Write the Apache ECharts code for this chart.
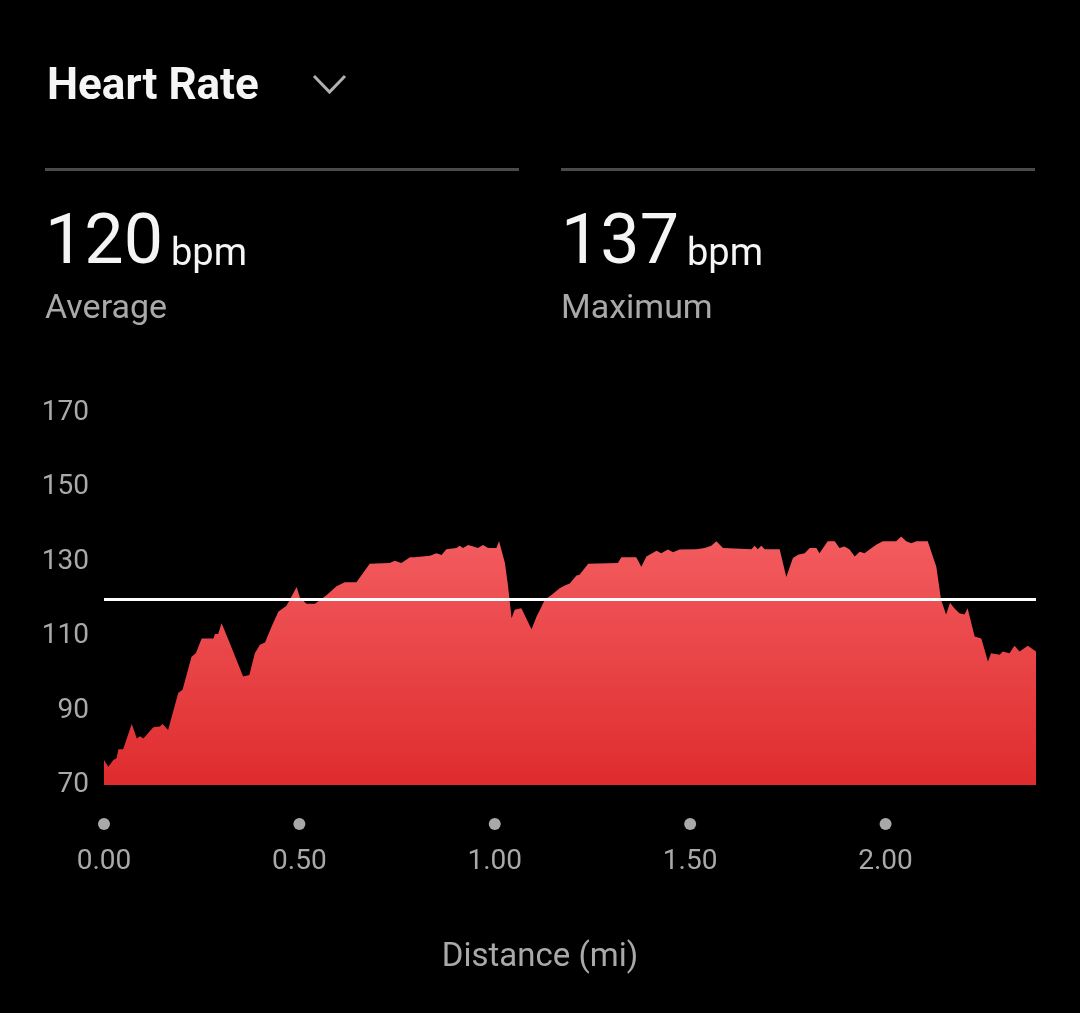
<!DOCTYPE html>
<html>
<head>
<meta charset="utf-8">
<style>
html,body{margin:0;padding:0;background:#000;}
#chart{width:1080px;height:1013px;}
</style>
<script src="https://cdn.jsdelivr.net/npm/echarts@6/dist/echarts.min.js"></script>
</head>
<body>
<div id="chart"></div>
<script>
// Distance (mi) and heart rate (bpm)
const distance = [0.000,0.011,0.024,0.032,0.037,0.049,0.071,0.084,0.092,0.101,0.126,0.143,0.150,0.164,0.190,0.201,0.224,0.235,0.250,0.280,0.284,0.292,0.301,0.322,0.356,0.372,0.386,0.399,0.412,0.429,0.446,0.467,0.493,0.501,0.518,0.540,0.570,0.595,0.616,0.646,0.680,0.731,0.744,0.761,0.783,0.795,0.834,0.851,0.864,0.876,0.902,0.910,0.919,0.932,0.945,0.957,0.970,0.983,1.004,1.011,1.026,1.034,1.043,1.051,1.068,1.094,1.107,1.115,1.128,1.145,1.166,1.179,1.192,1.209,1.217,1.239,1.315,1.324,1.362,1.375,1.388,1.414,1.426,1.443,1.456,1.473,1.516,1.537,1.554,1.567,1.584,1.657,1.665,1.673,1.682,1.691,1.729,1.746,1.763,1.776,1.793,1.806,1.823,1.831,1.852,1.870,1.882,1.895,1.908,1.921,1.934,1.946,1.959,1.976,1.993,2.027,2.040,2.053,2.066,2.079,2.108,2.121,2.130,2.142,2.155,2.165,2.176,2.189,2.202,2.210,2.228,2.245,2.262,2.270,2.292,2.300,2.317,2.330,2.343,2.364,2.385];
const heartRate = [76.7,74.9,76.7,77.2,79.6,79.6,86.4,82.5,83.1,82.5,85.5,85.7,86.4,84.8,94.7,95.6,104.5,105.4,109.4,109.4,110.6,110.6,113.5,108.1,99.2,99.6,105.4,107.7,108.3,112.6,116.6,118.2,123.2,120.5,118.7,118.7,121.1,123.4,124.5,124.5,129.5,129.7,130.3,129.7,131.2,131.2,131.6,132.3,131.8,133.4,133.7,134.3,133.7,134.5,134.1,133.7,134.5,133.7,133.7,135.5,129.7,123.4,114.8,117.1,117.5,111.9,115.3,117.0,119.8,121.1,122.9,123.6,124.2,126.3,126.5,129.5,129.7,131.2,131.2,128.7,131.4,133.0,132.3,133.3,132.6,133.3,133.4,133.7,134.3,135.5,133.7,133.4,134.3,133.4,134.3,133.4,133.4,125.9,131.0,131.9,132.3,133.7,133.7,132.3,135.5,135.5,133.7,134.1,133.3,131.4,132.7,132.3,133.3,134.6,135.5,135.5,136.8,135.5,135.0,135.5,135.5,131.4,128.7,119.8,115.8,119.0,117.5,116.2,115.8,117.5,109.9,109.4,103.2,105.4,105.0,105.9,105.4,107.4,105.9,107.4,105.9];
const averageHR = 120;
const maximumHR = 137;
const yTicks = [70, 90, 110, 130, 150, 170];
const xTicks = [0, 0.5, 1.0, 1.5, 2.0];
const titleText = 'Heart Rate';
const xAxisTitle = 'Distance (mi)';

const chart = echarts.init(document.getElementById('chart'), null, {renderer:'canvas'});
const FONT = 'Roboto, "Noto Sans", sans-serif';
const seriesData = distance.map((d, i) => [d, heartRate[i]]);

const option = {
  backgroundColor: '#000',
  animation: false,
  textStyle: {fontFamily: FONT},
  grid: {left: 104, right: 44, top: 413, bottom: 228, containLabel: false},
  xAxis: {
    type: 'value',
    min: 0,
    max: distance[distance.length - 1],
    interval: 0.5,
    axisLine: {show: false},
    axisTick: {show: false},
    splitLine: {show: false},
    axisLabel: {
      showMaxLabel: false,
      margin: 33,
      formatter: function (v) {
        if (!xTicks.some(t => Math.abs(t - v) < 1e-6)) return '';
        return '{dot|}\n{t|' + v.toFixed(2) + '}';
      },
      rich: {
        dot: {width: 12, height: 12, borderRadius: 6, backgroundColor: '#a9a9a9', lineHeight: 12},
        t: {fontSize: 28, color: '#a9a9a9', fontFamily: FONT, lineHeight: 64}
      }
    },
    name: xAxisTitle,
    nameLocation: 'middle',
    nameGap: 156,
    nameTextStyle: {fontSize: 33, color: '#a9a9a9', fontFamily: FONT, padding: [0, 60, 0, 0]}
  },
  yAxis: {
    type: 'value',
    min: yTicks[0],
    max: yTicks[yTicks.length - 1],
    interval: 20,
    axisLine: {show: false},
    axisTick: {show: false},
    splitLine: {show: false},
    axisLabel: {margin: 15, fontSize: 28, color: '#a9a9a9', fontFamily: FONT, padding: [5, 0, 0, 0]}
  },
  series: [{
    type: 'line',
    data: seriesData,
    showSymbol: false,
    symbol: 'none',
    lineStyle: {width: 0, opacity: 0},
    areaStyle: {
      opacity: 1,
      color: new echarts.graphic.LinearGradient(0, 0, 0, 1, [
        {offset: 0, color: '#f35c5f'},
        {offset: 1, color: '#df2c2e'}
      ])
    },
    markLine: {
      silent: true,
      symbol: 'none',
      label: {show: false},
      lineStyle: {color: '#ffffff', width: 3, type: 'solid'},
      data: [{yAxis: averageHR}]
    },
    z: 2
  }],
  graphic: [
    {type: 'text', left: 47, top: 66, style: {text: titleText, fill: '#f5f5f5', font: 'bold 44px ' + FONT}},
    {type: 'polyline', shape: {points: [[314, 76], [329.5, 92], [345, 76]]}, style: {stroke: '#b0b0b0', lineWidth: 3, fill: null}},
    {type: 'rect', shape: {x: 45, y: 168, width: 474, height: 3}, style: {fill: '#4b4b4b'}},
    {type: 'rect', shape: {x: 561, y: 168, width: 474, height: 3}, style: {fill: '#4b4b4b'}},
    {type: 'text', x: 45, y: 245, style: {text: String(averageHR), fill: '#f5f5f5', font: '70px ' + FONT, verticalAlign: 'middle'}},
    {type: 'text', x: 171, y: 255, style: {text: 'bpm', fill: '#f5f5f5', font: '38px ' + FONT, verticalAlign: 'middle'}},
    {type: 'text', x: 45, y: 309, style: {text: 'Average', fill: '#a9a9a9', font: '34px ' + FONT, verticalAlign: 'middle'}},
    {type: 'text', x: 561, y: 245, style: {text: String(maximumHR), fill: '#f5f5f5', font: '70px ' + FONT, verticalAlign: 'middle'}},
    {type: 'text', x: 687, y: 255, style: {text: 'bpm', fill: '#f5f5f5', font: '38px ' + FONT, verticalAlign: 'middle'}},
    {type: 'text', x: 561, y: 309, style: {text: 'Maximum', fill: '#a9a9a9', font: '34px ' + FONT, verticalAlign: 'middle'}}
  ]
};
chart.setOption(option);
</script>
</body>
</html>
